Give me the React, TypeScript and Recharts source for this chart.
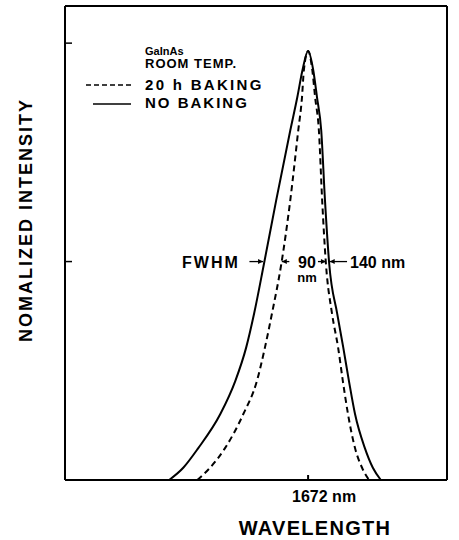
import { LineChart, Line, XAxis, YAxis, ReferenceLine } from 'recharts'

// wavelength (nm) / normalized intensity
const noBakingWl = [1376, 1406, 1438, 1485, 1517, 1540, 1557, 1578, 1604, 1634, 1649, 1660, 1672, 1683, 1691, 1700, 1708, 1717, 1734, 1747, 1759, 1772, 1793, 1810, 1827]
const noBakingI = [0, 0.028, 0.073, 0.151, 0.227, 0.303, 0.381, 0.495, 0.64, 0.8, 0.876, 0.938, 0.982, 0.938, 0.876, 0.8, 0.64, 0.495, 0.381, 0.303, 0.227, 0.151, 0.073, 0.028, 0]
const bakedWl = [1436, 1463, 1495, 1534, 1563, 1580, 1595, 1615, 1634, 1651, 1659, 1663, 1672, 1681, 1687, 1695, 1702, 1710, 1723, 1736, 1746, 1757, 1772, 1787, 1802]
const bakedI = [0, 0.028, 0.073, 0.151, 0.227, 0.303, 0.381, 0.495, 0.64, 0.8, 0.876, 0.938, 0.982, 0.938, 0.876, 0.8, 0.64, 0.495, 0.381, 0.303, 0.227, 0.151, 0.073, 0.028, 0]

const xTicks = [1672]
const yTicks = [0.5, 1]
const xDomain = [1154, 1968]
const yDomain = [0, 1.085]

// FWHM arrows: [from, to] wavelength at half maximum, head at "to"
const fwhmArrows = [
  [1547, 1576],
  [1632, 1616],
  [1693, 1710],
  [1755, 1718],
]

const noBaking = noBakingWl.map((wl, i) => ({ wl, v: noBakingI[i] }))
const baked = bakedWl.map((wl, i) => ({ wl, v: bakedI[i] }))

const font = '"Liberation Sans", Arial, sans-serif'
const blank = () => ''

function Arrow(props: any) {
  const { x1, y1, x2, y2 } = props
  const dir = x2 > x1 ? 1 : -1
  return (
    <g>
      <line x1={x1} y1={y1} x2={x2} y2={y2} stroke="#000" strokeWidth={1.3} />
      <polygon points={`${x2},${y2} ${x2 - dir * 5},${y2 - 2.5} ${x2 - dir * 5},${y2 + 2.5}`} fill="#000" />
    </g>
  )
}

// tick labels sit under the axis even though the tick marks point inwards
function WlTick(props: any) {
  const { x, payload } = props
  return (
    <text x={x + 16} y={502} textAnchor="middle" fontFamily={font} fontWeight="bold" fontSize={16} fill="#000">
      {payload.value} nm
    </text>
  )
}

export default function App() {
  return (
    <div style={{ width: 459, height: 540, background: '#fff' }}>
      <style>{'body{margin:0}'}</style>
      <LineChart width={459} height={540} margin={{ top: 5, right: 12, bottom: 60, left: 65 }}>
        <XAxis
          xAxisId={0}
          dataKey="wl"
          type="number"
          domain={xDomain}
          ticks={xTicks}
          height={1}
          mirror
          tickSize={5}
          tick={WlTick}
          axisLine={{ stroke: '#000', strokeWidth: 2 }}
          tickLine={{ stroke: '#000', strokeWidth: 2 }}
        />
        <XAxis xAxisId="top" orientation="top" type="number" domain={xDomain} height={1} tick={false} tickLine={false} axisLine={{ stroke: '#000', strokeWidth: 2 }} />
        <YAxis
          yAxisId={0}
          type="number"
          domain={yDomain}
          ticks={yTicks}
          width={1}
          mirror
          tickSize={7}
          tickFormatter={blank}
          axisLine={{ stroke: '#000', strokeWidth: 2 }}
          tickLine={{ stroke: '#000', strokeWidth: 1.5 }}
        />
        <YAxis
          yAxisId="right"
          orientation="right"
          type="number"
          domain={yDomain}
          ticks={yTicks}
          width={1}
          mirror
          tickSize={5}
          tickFormatter={blank}
          axisLine={{ stroke: '#000', strokeWidth: 2 }}
          tickLine={{ stroke: '#000', strokeWidth: 1.5 }}
        />
        <Line data={noBaking} dataKey="v" type="monotone" stroke="#000" strokeWidth={2} dot={false} isAnimationActive={false} />
        <Line data={baked} dataKey="v" type="monotone" stroke="#000" strokeWidth={2} strokeDasharray="6 4" dot={false} isAnimationActive={false} />
        {fwhmArrows.map(([a, b], i) => (
          <ReferenceLine key={i} segment={[{ x: a, y: 0.5 }, { x: b, y: 0.5 }]} shape={Arrow} ifOverflow="visible" />
        ))}

        <g fontFamily={font} fontWeight="bold" fill="#000">
          <text x={145} y={55} fontSize={11}>GaInAs</text>
          <text x={145} y={68} fontSize={13} letterSpacing={1}>ROOM  TEMP.</text>
          <text x={145} y={90} fontSize={15} letterSpacing={2.3}>20 h  BAKING</text>
          <text x={145} y={108} fontSize={15} letterSpacing={2}>NO  BAKING</text>
          <line x1={86} y1={85} x2={131} y2={85} stroke="#000" strokeWidth={1.5} strokeDasharray="5 3" />
          <line x1={93} y1={104} x2={131} y2={104} stroke="#000" strokeWidth={1.5} />

          <text x={182} y={268} fontSize={16} letterSpacing={2}>FWHM</text>
          <text x={307} y={268} fontSize={16} textAnchor="middle">90</text>
          <text x={307} y={282} fontSize={13} textAnchor="middle">nm</text>
          <text x={350} y={268} fontSize={16}>140 nm</text>

          <text x={315} y={535} fontSize={20} letterSpacing={1.3} textAnchor="middle">WAVELENGTH</text>
          <text x={26} y={220} fontSize={18} letterSpacing={2} textAnchor="middle" transform="rotate(-90 26 220)" dy="0.35em">
            NOMALIZED INTENSITY
          </text>
        </g>
      </LineChart>
    </div>
  )
}
